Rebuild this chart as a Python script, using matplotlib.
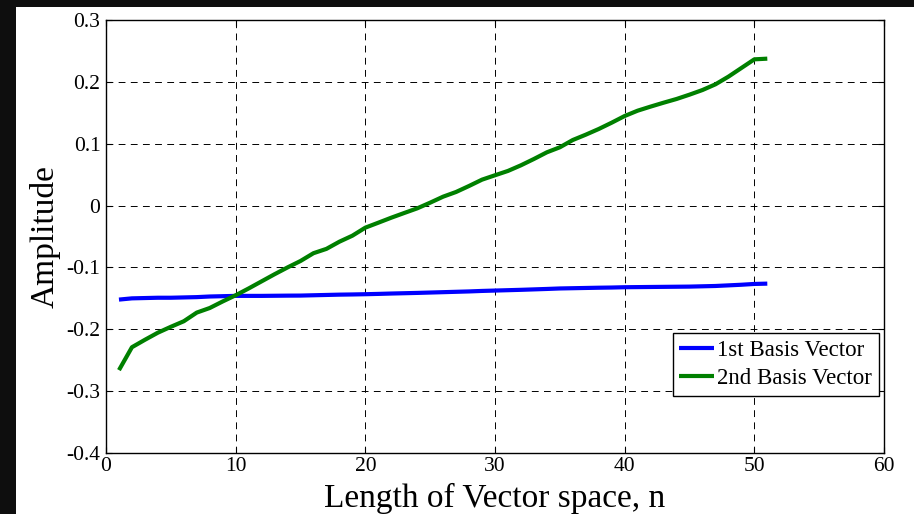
import numpy as np
import matplotlib
matplotlib.use("Agg")
import matplotlib.pyplot as plt
from matplotlib.patches import Rectangle

plt.rcParams['font.family'] = ['Liberation Serif', 'DejaVu Serif']
plt.rcParams['mathtext.fontset'] = 'stix'

# ======================
# Datos
# ======================
n = np.arange(1, 52)

basis_1 = [-0.152, -0.150, -0.1495, -0.149, -0.149, -0.1485, -0.148, -0.147, -0.1465, -0.146,
           -0.146, -0.146, -0.1458, -0.1456, -0.1455, -0.145, -0.1445, -0.144, -0.1437, -0.1433,
           -0.1428, -0.1422, -0.1417, -0.1412, -0.1406, -0.140, -0.1394, -0.1388, -0.138, -0.1374,
           -0.1368, -0.1362, -0.1355, -0.1348, -0.134, -0.1336, -0.1332, -0.1328, -0.1325, -0.132,
           -0.1318, -0.1316, -0.1314, -0.1312, -0.131, -0.1305, -0.130, -0.129, -0.128, -0.1267,
           -0.1262]

basis_2 = [-0.266, -0.229, -0.217, -0.2055, -0.196, -0.187, -0.173, -0.1656, -0.155, -0.145,
           -0.134, -0.1225, -0.111, -0.100, -0.0896, -0.077, -0.070, -0.0584, -0.0487, -0.0357,
           -0.0277, -0.0196, -0.012, -0.0045, 0.0047, 0.0144, 0.022, 0.0317, 0.0419, 0.049,
           0.056, 0.0651, 0.0753, 0.0861, 0.0942, 0.106, 0.1146, 0.1238, 0.134, 0.1448,
           0.1534, 0.160, 0.1663, 0.1723, 0.1793, 0.1868, 0.196, 0.2084, 0.2224, 0.2364,
           0.2375]

labels = ['1st Basis Vector', '2nd Basis Vector']
x_ticks = [0, 10, 20, 30, 40, 50, 60]
y_ticks = [-0.4, -0.3, -0.2, -0.1, 0, 0.1, 0.2, 0.3]
y_tick_labels = ['-0.4', '-0.3', '-0.2', '-0.1', '0', '0.1', '0.2', '0.3']

# ======================
# Figura
# ======================
fig = plt.figure(figsize=(9.14, 5.14), dpi=100)
fig.patch.set_facecolor('#0e0e0e')
fig.patches.append(Rectangle((16 / 914, 0), 1, (514 - 7) / 514, transform=fig.transFigure,
                             facecolor='white', edgecolor='none', zorder=-5))

ax = fig.add_axes([106 / 914, 61 / 514, 778 / 914, 433 / 514])
ax.plot(n, basis_1, color='#0000ff', lw=3.0, label=labels[0], solid_capstyle='butt')
ax.plot(n, basis_2, color='#008000', lw=3.0, label=labels[1], solid_capstyle='butt')

ax.set_xlim(0, 60)
ax.set_ylim(-0.4, 0.3)
ax.set_xticks(x_ticks)
ax.set_yticks(y_ticks)
ax.set_yticklabels(y_tick_labels)
ax.tick_params(direction='in', length=4, width=0.8, top=True, right=True,
               labelsize=15.5, colors='black')
ax.tick_params(axis='x', pad=3)
ax.tick_params(axis='y', pad=4)
ax.grid(True, color='black', lw=0.7, linestyle=(0, (7, 5.5)))
for s in ax.spines.values():
    s.set_linewidth(1.0)

ax.set_xlabel('Length of Vector space, n', fontsize=24, labelpad=5)
ax.set_ylabel('Amplitude', fontsize=24, labelpad=4)

leg = ax.legend(loc='upper right', bbox_to_anchor=(0.9936, 0.277), borderaxespad=0,
                fontsize=16.5, fancybox=False, framealpha=1, edgecolor='black',
                handlelength=1.5, handletextpad=0.15, borderpad=0.3, labelspacing=0.3)
leg.get_frame().set_linewidth(1.0)

fig.savefig('out.png', dpi=100, facecolor=fig.get_facecolor())
